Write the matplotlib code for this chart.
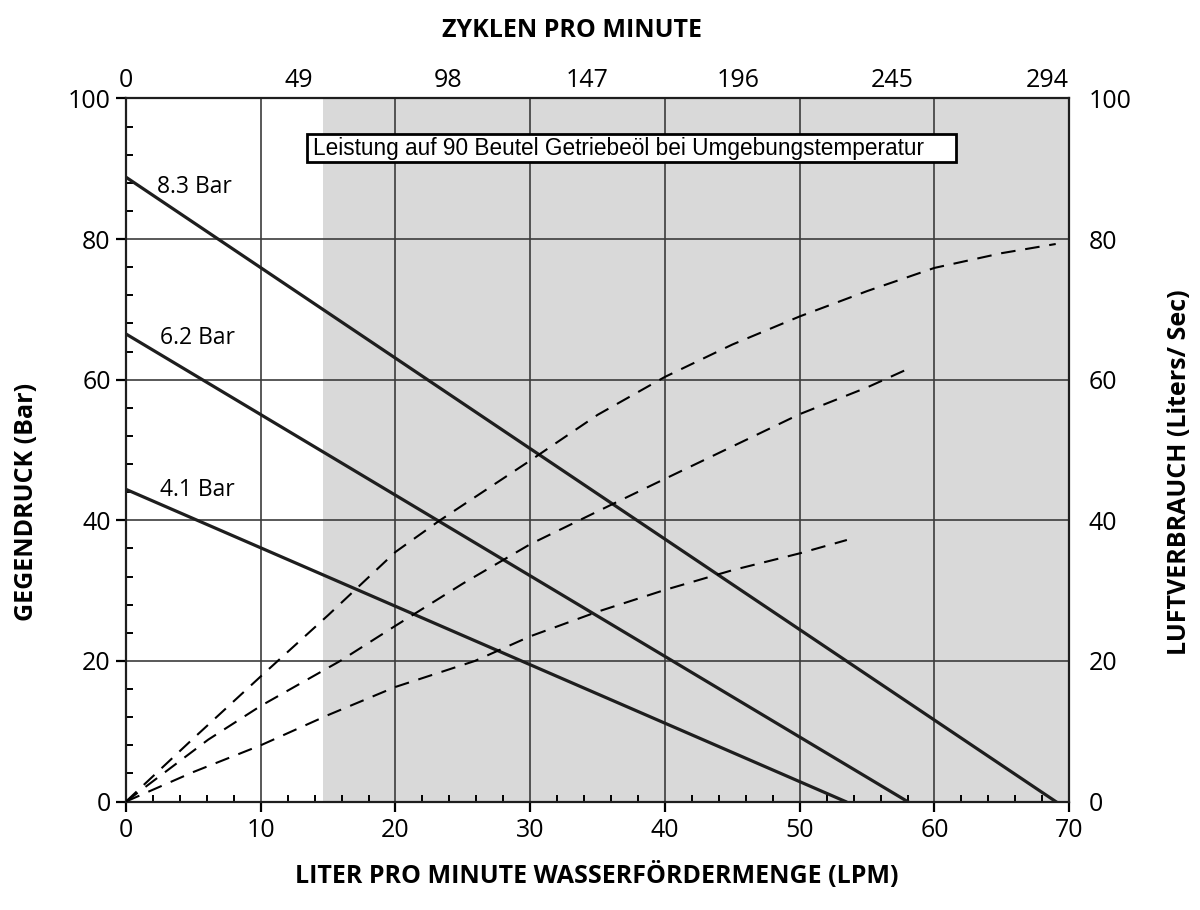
import matplotlib
matplotlib.use("Agg")
import matplotlib.pyplot as plt
from matplotlib.patches import Rectangle
from matplotlib.ticker import MultipleLocator

plt.rcParams["font.family"] = ["Open Sans", "DejaVu Sans"]

# ---------------------------------------------------------------------------
# Data
# ---------------------------------------------------------------------------
# Pump curves: discharge pressure (bar) vs flow (LPM), straight lines
curve_labels = ["8.3 Bar", "6.2 Bar", "4.1 Bar"]
curve_flow = [[0, 69.0], [0, 58.0], [0, 53.4]]
curve_pressure = [[88.8, 0], [66.5, 0], [44.4, 0]]
label_pos = [(2.3, 87.4), (2.5, 66.0), (2.5, 44.3)]

# Air consumption curves (Liters/Sec, right axis)
air_hi_flow = [0, 4.9, 10, 15, 20, 23.3, 30, 35, 40, 45, 50, 55, 60, 65, 69]
air_hi_val = [0, 8.8, 17.8, 26.5, 35.5, 40, 48.5, 55, 60.4, 65, 69, 72.6, 75.9, 78, 79.3]
air_mid_flow = [0, 6.1, 10, 15.9, 20, 25, 30, 36, 40, 45, 50, 55, 58]
air_mid_val = [0, 8.8, 13.6, 20, 25, 31, 36.6, 42.2, 45.9, 50.5, 55.1, 58.9, 61.5]
air_lo_flow = [0, 5, 10, 15, 20, 25.9, 30, 35, 40, 45, 50, 53.5]
air_lo_val = [0, 4.2, 8.0, 12.3, 16.3, 20, 23.5, 27, 30.1, 32.9, 35.3, 37.2]

# Top axis: cycles per minute labels and where they sit on the LPM scale
cycle_labels = ["0", "49", "98", "147", "196", "245", "294"]
cycle_pos = [0, 12.84, 23.9, 34.2, 45.4, 56.9, 68.35]

shade_start = 14.6
note_text = "Leistung auf 90 Beutel Getriebeöl bei Umgebungstemperatur"

# ---------------------------------------------------------------------------
fig = plt.figure(figsize=(12, 9.1), dpi=100)
ax = fig.add_axes([0.105, 0.1192, 0.786, 0.7726])

ax.set_xlim(0, 70)
ax.set_ylim(0, 100)

ax.axvspan(shade_start, 70, color="#d9d9d9", zorder=0, lw=0)

for g in range(10, 70, 10):
    ax.axvline(g, color="#3c3c3c", lw=1.2, zorder=1)
for g in range(20, 100, 20):
    ax.axhline(g, color="#3c3c3c", lw=1.2, zorder=1)

for fl, pr, lab, pos in zip(curve_flow, curve_pressure, curve_labels, label_pos):
    ax.plot(fl, pr, color="#1e1e1e", lw=2.3, zorder=3)
    ax.text(pos[0], pos[1], lab, fontsize=16.5, va="center", ha="left", zorder=4)

for fl, v in [(air_hi_flow, air_hi_val), (air_mid_flow, air_mid_val),
              (air_lo_flow, air_lo_val)]:
    ax.plot(fl, v, color="black", lw=1.5, dashes=(7, 4.7), zorder=3)

# note box
ax.add_patch(Rectangle((13.4, 91.0), 48.2, 3.9, fc="white", ec="black",
                       lw=2, zorder=5))
ax.text(13.9, 92.95, note_text, fontsize=16.3, family=["Liberation Sans"],
        va="center", ha="left", zorder=6)

for s in ax.spines.values():
    s.set_linewidth(1.6)
    s.set_color("#1e1e1e")

ax.xaxis.set_major_locator(MultipleLocator(10))
ax.xaxis.set_minor_locator(MultipleLocator(2))
ax.yaxis.set_major_locator(MultipleLocator(20))
ax.yaxis.set_minor_locator(MultipleLocator(4))
ax.tick_params(which="major", direction="out", length=7, width=1.6,
               labelsize=18, pad=5)
ax.tick_params(which="minor", direction="in", length=5, width=1.4)
ax.tick_params(axis="y", which="major", pad=4)

# right axis: air consumption, same 0-100 scale
ax_r = ax.twinx()
ax_r.set_ylim(0, 100)
ax_r.yaxis.set_major_locator(MultipleLocator(20))
ax_r.tick_params(axis="y", length=0, labelsize=18, pad=14)
for s in ax_r.spines.values():
    s.set_visible(False)

# top axis: cycles per minute
ax_t = ax.twiny()
ax_t.set_xlim(0, 70)
ax_t.set_xticks(cycle_pos)
ax_t.set_xticklabels(cycle_labels)
ax_t.tick_params(axis="x", length=0, labelsize=18, pad=4)
for s in ax_t.spines.values():
    s.set_visible(False)

fig.text(0.477, 0.966, "ZYKLEN PRO MINUTE", fontsize=18, fontweight="bold",
         ha="center", va="center")
fig.text(0.497, 0.038, "LITER PRO MINUTE WASSERFÖRDERMENGE (LPM)", fontsize=18,
         fontweight="bold", ha="center", va="center")
fig.text(0.022, 0.448, "GEGENDRUCK (Bar)", fontsize=18, fontweight="bold",
         ha="center", va="center", rotation=90)
fig.text(0.983, 0.481, "LUFTVERBRAUCH (Liters/ Sec)", fontsize=18,
         fontweight="bold", ha="center", va="center", rotation=90)

fig.savefig("out.png", dpi=100)
